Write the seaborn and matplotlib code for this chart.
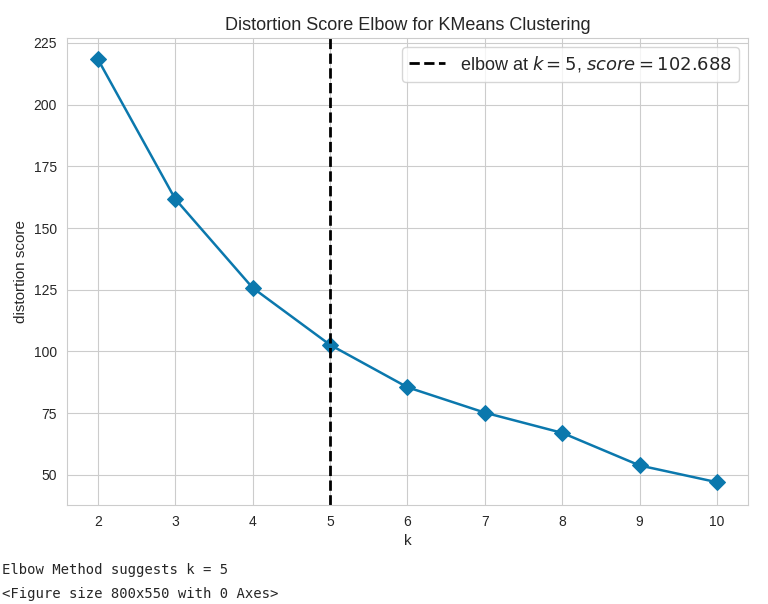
import matplotlib
matplotlib.use("Agg")
import matplotlib.pyplot as plt
import seaborn as sns
import pandas as pd

k_values = [2, 3, 4, 5, 6, 7, 8, 9, 10]
scores = [218.5, 161.8, 125.8, 102.688, 85.5, 75.2, 67.0, 53.8, 47.0]
elbow_k = 5
elbow_score = 102.688

sns.set_style("whitegrid")
plt.rcParams['font.family'] = ['Liberation Sans', 'DejaVu Sans']

df = pd.DataFrame({"k": k_values, "score": scores})

fig = plt.figure(figsize=(7.68, 6.04), dpi=100)
ax = fig.add_axes([0.087, 0.164, 0.887, 0.773])
sns.lineplot(data=df, x="k", y="score", ax=ax, color="#0b78ad", marker="D",
             markersize=8, markeredgecolor="#0b78ad", linewidth=1.8)
ax.axvline(elbow_k, color="black", linestyle="--", linewidth=2,
           label=f"elbow at $k={elbow_k}$, $score={elbow_score}$")
ax.set_xlim(1.6, 10.4)
ax.set_ylim(37.8, 227)
ax.set_xticks(k_values)
ax.set_yticks([50, 75, 100, 125, 150, 175, 200, 225])
ax.set_title("Distortion Score Elbow for KMeans Clustering", fontsize=13)
ax.set_xlabel("k", fontsize=11)
ax.set_ylabel("distortion score", fontsize=11)
ax.tick_params(labelsize=10)
for s in ax.spines.values():
    s.set_color("#cccccc")
ax.legend(loc="upper right", fontsize=13, frameon=True)

fig.text(0.002, 0.05, "Elbow Method suggests k = 5", family="DejaVu Sans Mono", fontsize=10)
fig.text(0.002, 0.01, "<Figure size 800x550 with 0 Axes>", family="DejaVu Sans Mono", fontsize=10)

fig.savefig("out.png", dpi=100)
